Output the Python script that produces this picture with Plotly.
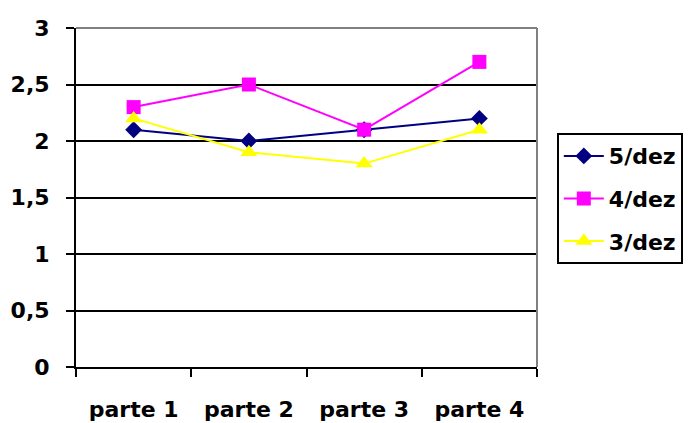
import plotly.graph_objects as go

# Chart data
categories = ["parte 1", "parte 2", "parte 3", "parte 4"]
series_names = ["5/dez", "4/dez", "3/dez"]
values_5dez = [2.1, 2.0, 2.1, 2.2]
values_4dez = [2.3, 2.5, 2.1, 2.7]
values_3dez = [2.2, 1.9, 1.8, 2.1]

colors = ["#000080", "#FF00FF", "#FFFF00"]
symbols = ["diamond", "square", "triangle-up"]
sizes = [13, 14, 15]

FONT = "DejaVu Sans"
FS = 22

fig = go.Figure()
for i, (name, vals) in enumerate(zip(series_names, [values_5dez, values_4dez, values_3dez])):
    fig.add_trace(go.Scatter(
        x=categories, y=vals, name=name, mode="lines+markers",
        legendgroup=name,
        line=dict(color=colors[i], width=2),
        marker=dict(symbol=symbols[i], size=sizes[i], color=colors[i],
                    line=dict(width=0)),
    ))

fig.update_layout(
    width=698, height=423,
    margin=dict(l=76, r=161, t=28, b=56),
    paper_bgcolor="white", plot_bgcolor="white",
    separators=",.",
    font=dict(family=FONT, size=FS, color="black"),
    showlegend=True,
    legend=dict(
        x=1.043, y=0.69, xanchor="left", yanchor="top",
        bordercolor="black", borderwidth=2,
        font=dict(family=FONT, size=FS, color="black", weight="bold"),
        traceorder="grouped", tracegroupgap=11,
        itemwidth=40,
    ),
    xaxis=dict(
        type="category", range=[-0.5, 3.5], automargin=False,
        tickson="boundaries", ticks="outside", ticklen=8, tickwidth=2,
        tickcolor="black", showgrid=False,
        showline=True, linecolor="black", linewidth=2,
        tickfont=dict(family=FONT, size=FS, color="black", weight="bold"),
        ticklabelstandoff=22,
    ),
    yaxis=dict(
        range=[0, 3], dtick=0.5, tick0=0, automargin=False,
        showgrid=True, gridcolor="black", gridwidth=1.5,
        zeroline=False,
        showline=True, linecolor="black", linewidth=2,
        ticks="outside", ticklen=8, tickwidth=2, tickcolor="black",
        tickfont=dict(family=FONT, size=FS, color="black", weight="bold"),
        ticklabelstandoff=12,
    ),
    shapes=[
        dict(type="line", xref="paper", yref="paper", x0=0, x1=1, y0=1, y1=1,
             line=dict(color="#808080", width=2), layer="above"),
        dict(type="line", xref="paper", yref="paper", x0=1, x1=1, y0=0, y1=1,
             line=dict(color="#808080", width=2), layer="above"),
    ],
)

fig.write_html("out.html")
